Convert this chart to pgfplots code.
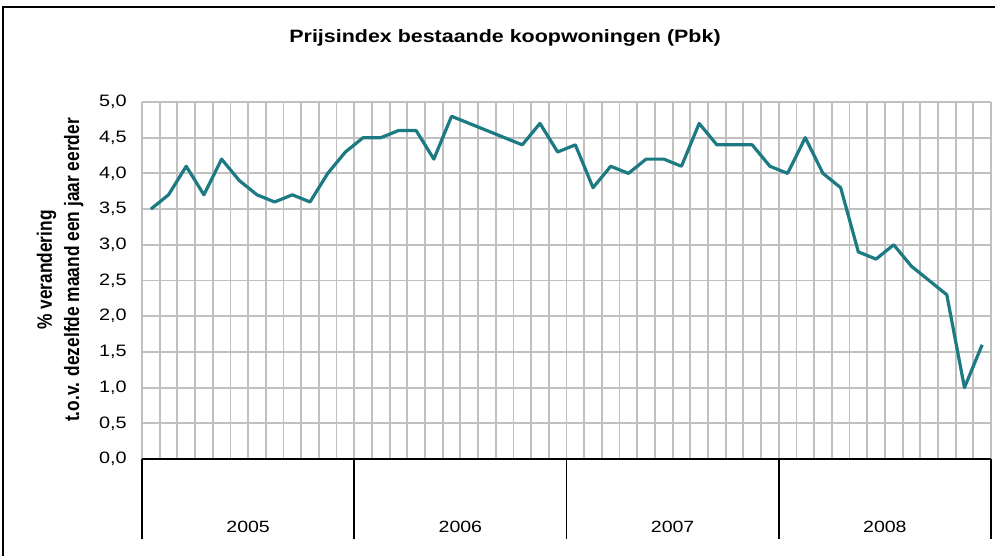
\documentclass[border=0pt]{standalone}
\usepackage{fontspec}
\setmainfont{Liberation Sans}[FakeStretch=1.2]
\newfontfamily\plainfont{Liberation Sans}
\usepackage{pgfplots}
\pgfplotsset{compat=1.18}
\definecolor{pbkline}{RGB}{28,122,130}
\definecolor{gridgray}{RGB}{192,192,192}

\begin{document}
\begin{tikzpicture}
% page = 995 x 556 px, 1px = 0.75pt, origin at plot area lower left (142,459)
\useasboundingbox (-106.5pt,-72.75pt) rectangle (639.75pt,344.25pt);
\draw[line width=2.2pt] (-104.25pt,-90pt) -- (-104.25pt,339pt) -- (660pt,339pt);

\begin{axis}[
    width=636.75pt, height=267.75pt,
    scale only axis,
    clip=false,
    xmin=0.5, xmax=48.5,
    ymin=0, ymax=5,
    xtick={0.5,1.5,...,48.5},
    xticklabels={},
    ytick={0,0.5,...,5},
    grid=major,
    grid style={draw=gridgray, line width=1.4pt},
    tick style={draw=none},
    axis line style={draw=none},
    yticklabel style={anchor=east, inner sep=0pt, xshift=-11.25pt,
        font=\fontsize{12.4}{14}\selectfont},
    /pgf/number format/.cd, use comma, fixed, fixed zerofill, precision=1,
    assume math mode=true,
]
\addplot[color=pbkline, line width=2.4pt, mark=none, line join=round] table {
x y
1 3.5
2 3.7
3 4.1
4 3.7
5 4.2
6 3.9
7 3.7
8 3.6
9 3.7
10 3.6
11 4.0
12 4.3
13 4.5
14 4.5
15 4.6
16 4.6
17 4.2
18 4.8
19 4.7
20 4.6
21 4.5
22 4.4
23 4.7
24 4.3
25 4.4
26 3.8
27 4.1
28 4.0
29 4.2
30 4.2
31 4.1
32 4.7
33 4.4
34 4.4
35 4.4
36 4.1
37 4.0
38 4.5
39 4.0
40 3.8
41 2.9
42 2.8
43 3.0
44 2.7
45 2.5
46 2.3
47 1.0
48 1.6
};
% category axis with year boxes
\draw[black, line width=1.4pt] (axis cs:0.5,0) -- (axis cs:48.5,0);
\draw[black, line width=1.3pt] (axis cs:0.5,0) -- ([yshift=-60pt]axis cs:0.5,0);
\draw[black, line width=1.3pt] (axis cs:12.5,0) -- ([yshift=-60pt]axis cs:12.5,0);
\draw[black, line width=1.3pt] (axis cs:24.5,0) -- ([yshift=-60pt]axis cs:24.5,0);
\draw[black, line width=1.3pt] (axis cs:36.5,0) -- ([yshift=-60pt]axis cs:36.5,0);
\draw[black, line width=1.3pt] (axis cs:48.5,0) -- ([yshift=-60pt]axis cs:48.5,0);
\node[font=\fontsize{12.2}{14}\selectfont] at ([yshift=-50.6pt]axis cs:6.5,0) {2005};
\node[font=\fontsize{12.2}{14}\selectfont] at ([yshift=-50.6pt]axis cs:18.5,0) {2006};
\node[font=\fontsize{12.2}{14}\selectfont] at ([yshift=-50.6pt]axis cs:30.5,0) {2007};
\node[font=\fontsize{12.2}{14}\selectfont] at ([yshift=-50.6pt]axis cs:42.5,0) {2008};
\end{axis}

\node[font=\bfseries\fontsize{13.4}{16}\selectfont] at (272.25pt,315.75pt)
    {Prijsindex bestaande koopwoningen (Pbk)};
\node[rotate=90, inner sep=0pt] at (-61.5pt,141.75pt)
    {\scalebox{1}[1.2]{\plainfont\bfseries\fontsize{13}{17}\selectfont
     \begin{tabular}{@{}c@{}}\% verandering\\ t.o.v. dezelfde maand een jaar eerder\end{tabular}}};
\end{tikzpicture}
\end{document}
